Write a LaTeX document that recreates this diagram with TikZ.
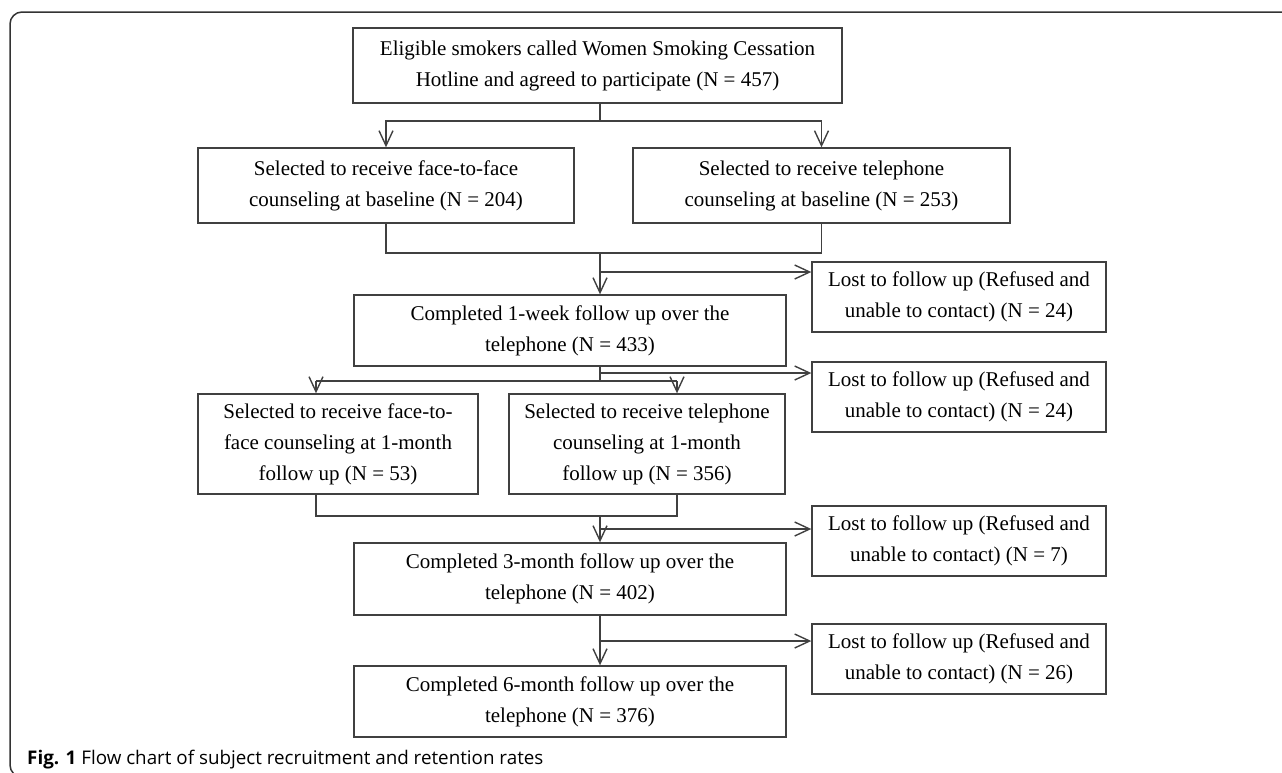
\documentclass[tikz,border=0pt]{standalone}
\usepackage{fontspec}
\setmainfont{Liberation Serif}
\newfontfamily\capfont{Open Sans}
\usetikzlibrary{arrows.meta}
\begin{document}
\begin{tikzpicture}[x=1pt,y=-1pt,
  box/.style={draw=black!75, line width=1.4pt, inner sep=0pt, align=center,
    font=\fontsize{21}{31}\selectfont, text=black},
  ln/.style={draw=black!75, line width=1.4pt},
  arr/.style={ln, -{Straight Barb[length=15pt,width=14pt,line width=1.4pt]}}]
\useasboundingbox (0,0) rectangle (1282,772);
\clip (0,0) rectangle (1282,772);
% frame
\draw[line width=1.5pt, black!80, rounded corners=12pt] (1300,12) -- (10,12) -- (10,777) -- (80,777);
% boxes
\node[box, minimum width=489pt, minimum height=75pt] (top) at (597.5,65.5)
  {Eligible smokers called Women Smoking Cessation\\Hotline and agreed to participate (N = 457)};
\node[box, minimum width=376pt, minimum height=75pt] (ftf0) at (386,185.5)
  {Selected to receive face-to-face\\counseling at baseline (N = 204)};
\node[box, minimum width=377pt, minimum height=75pt] (tel0) at (821.5,185.5)
  {Selected to receive telephone\\counseling at baseline (N = 253)};
\node[box, minimum width=432pt, minimum height=71pt] (week) at (570,330.5)
  {Completed 1-week follow up over the\\telephone (N = 433)};
\node[box, minimum width=294pt, minimum height=70pt] (lost1) at (959,297)
  {Lost to follow up (Refused and\\unable to contact) (N = 24)};
\node[box, minimum width=294pt, minimum height=70pt] (lost2) at (959,397)
  {Lost to follow up (Refused and\\unable to contact) (N = 24)};
\node[box, minimum width=280pt, minimum height=100pt] (ftf1) at (338,444)
  {Selected to receive face-to-\\face counseling at 1-month\\follow up (N = 53)};
\node[box, minimum width=276pt, minimum height=100pt] (tel1) at (647,444)
  {Selected to receive telephone\\counseling at 1-month\\follow up (N = 356)};
\node[box, minimum width=294pt, minimum height=70pt] (lost3) at (959,541)
  {Lost to follow up (Refused and\\unable to contact) (N = 7)};
\node[box, minimum width=432pt, minimum height=72pt] (m3) at (570,579)
  {Completed 3-month follow up over the\\telephone (N = 402)};
\node[box, minimum width=294pt, minimum height=70pt] (lost4) at (959,659)
  {Lost to follow up (Refused and\\unable to contact) (N = 26)};
\node[box, minimum width=432pt, minimum height=71pt] (m6) at (570,701.5)
  {Completed 6-month follow up over the\\telephone (N = 376)};
% junction coordinates
\coordinate (j1) at (600,121);
\coordinate (j2) at (600,253);
\coordinate (b1) at (600,272);
\coordinate (j3) at (600,381);
\coordinate (b2) at (600,373);
\coordinate (l3) at (316,381);
\coordinate (r3) at (677,381);
\coordinate (j4) at (600,516);
\coordinate (b3) at (600,529);
\coordinate (b4) at (600,641);
% connectors
\draw[ln] (j1 |- top.south) -- (j1);
\draw[arr] (j1) -| (ftf0.north);
\draw[arr] (j1) -| (tel0.north);
\draw[ln] (ftf0.south) |- (j2) -| (tel0.south);
\draw[arr] (j2) -- (j2 |- week.north);
\draw[arr] (b1) -- (b1 -| lost1.west);
\draw[ln] (j3 |- week.south) -- (j3);
\draw[ln] (l3) -- (r3);
\draw[arr] (l3) -- (l3 |- ftf1.north);
\draw[arr] (r3) -- (r3 |- tel1.north);
\draw[arr] (b2) -- (b2 -| lost2.west);
\draw[ln] (ftf1.south -| l3) |- (j4) -| (tel1.south -| r3);
\draw[arr] (j4) -- (j4 |- m3.north);
\draw[arr] (b3) -- (b3 -| lost3.west);
\draw[arr] (j4 |- m3.south) -- (j4 |- m6.north);
\draw[arr] (b4) -- (b4 -| lost4.west);
% caption
\node[anchor=base west, inner sep=0pt, font=\capfont\fontsize{18.8}{22}\selectfont] (cap) at (27,764)
  {\textbf{Fig. 1} Flow chart of subject recruitment and retention rates};
\end{tikzpicture}
\end{document}
